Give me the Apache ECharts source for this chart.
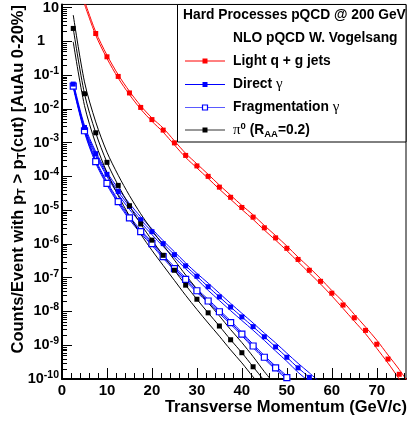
<!DOCTYPE html>
<html><head><meta charset="utf-8">
<script src="https://cdn.jsdelivr.net/npm/echarts@6/dist/echarts.min.js"></script>
<style>html,body{margin:0;padding:0;background:#fff}#c{width:408px;height:424px}</style>
</head><body><div id="c"></div>
<script>
// ---- data (counts/event vs pT) ----
const pTjets = [5,7.5,10,12.5,15,17.5,20,22.5,25,27.5,30,32.5,35,37.5,40,42.5,45,47.5,50,52.5,55,57.5,60,62.5,65,67.5,70,72.5,75,77.5];
const lightJets = [14,1.70,3.47e-1,9.1e-2,2.95e-2,1.10e-2,4.8e-3,2.34e-3,9.8e-4,4.17e-4,2.04e-4,1.0e-4,4.8e-5,2.4e-5,1.2e-5,6.2e-6,3.0e-6,1.51e-6,7.4e-7,3.47e-7,1.66e-7,7.8e-8,3.47e-8,1.55e-8,6.5e-9,2.75e-9,1.07e-9,3.9e-10,1.38e-10,4.5e-11];
const lightJetsBand = [1.12,1.12,1.12,1.12,1.12,1.12,1.12,1.15,1.15,1.15,1.15,1.15,1.15,1.15,1.15,1.17,1.17,1.17,1.17,1.17,1.2,1.2,1.2,1.26,1.26,1.26,1.32,1.32,1.38,1.38];

const pTdirect = [2.5,5,7.5,10,12.5,15,17.5,20,22.5,25,27.5,30,32.5,35,37.5,40,42.5,45,47.5,50,52.5,55,57.5];
const directGamma = [5.4e-2,2.8e-3,4.7e-4,1.15e-4,3.55e-5,1.29e-5,5.2e-6,2.3e-6,1.02e-6,4.8e-7,2.24e-7,1.10e-7,5.4e-8,2.7e-8,1.35e-8,6.9e-9,3.55e-9,1.78e-9,8.9e-10,4.4e-10,2.14e-10,1.12e-10,5.6e-11];
const directBand = [1.15,1.15,1.15,1.15,1.22,1.22,1.22,1.22,1.22,1.22,1.22,1.22,1.28,1.28,1.28,1.28,1.28,1.28,1.32,1.32,1.36,1.36,1.36];

const pTfrag = [2.5,5,7.5,10,12.5,15,17.5,20,22.5,25,27.5,30,32.5,35,37.5,40,42.5,45,47.5,50,52.5];
const fragGamma = [4.7e-2,2.24e-3,2.75e-4,6.2e-5,1.78e-5,5.9e-6,2.3e-6,1.02e-6,4.2e-7,1.86e-7,8.9e-8,4.1e-8,2.04e-8,9.8e-9,4.7e-9,2.14e-9,9.5e-10,4.4e-10,2.14e-10,1.10e-10,5.0e-11];
const fragBand = [1.12,1.12,1.12,1.12,1.12,1.12,1.12,1.12,1.12,1.12,1.12,1.12,1.12,1.12,1.12,1.12,1.12,1.12,1.12,1.12,1.12];

const pTpi0 = [2.5,5,7.5,10,12.5,15,17.5,20,22.5,25,27.5,30,32.5,35,37.5,40,42.5,45,47.5];
const pi0 = [2.4,2.8e-2,1.95e-3,2.6e-4,5.4e-5,1.35e-5,3.9e-6,1.29e-6,4.6e-7,1.66e-7,6.0e-8,2.3e-8,9.1e-9,3.7e-9,1.45e-9,6.0e-10,2.3e-10,8.9e-11,3.5e-11];
const pi0Band = [2.5,2.24,2.1,2.0,2.0,2.0,2.0,2.0,2.0,2.0,2.0,2.0,2.0,2.0,2.0,2.0,2.0,1.86,1.86];

const xMajorTicks = [0,10,20,30,40,50,60,70];
const xMinorTicks = [2,4,6,8,12,14,16,18,22,24,26,28,32,34,36,38,42,44,46,48,52,54,56,58,62,64,66,68,72,74,76];
const yDecades = [-10,-9,-8,-7,-6,-5,-4,-3,-2,-1,0,1];
const X_MAX = 76.5;
const Y_TOP = 12.3;

// ---- build ----
const FONT = '"Liberation Sans", Arial, Helvetica, sans-serif';
const Y_MIN = -10, Y_MAX = Math.log10(Y_TOP);
const yMinor = [];
yDecades.forEach(n => { for (let k = 2; k <= 9; k++) { const v = n + Math.log10(k); if (v < Y_MAX) yMinor.push(v); } });

function curve(xs, ys, band, dir) {
  return xs.map((x, i) => [x, Math.log10(ys[i] * (band ? Math.pow(band[i], dir) : 1))]);
}
function line(data, color, opts) {
  return Object.assign({
    type: 'line', data: data, smooth: 0.3, clip: true, silent: true,
    showSymbol: false, symbol: 'none',
    lineStyle: { color: color, width: 1 }, itemStyle: { color: color }
  }, opts || {});
}
function marks(data, color, lineOn, sym) {
  return line(data, color, {
    symbol: 'rect', showSymbol: true, symbolSize: sym && sym.size || 5,
    lineStyle: { color: color, width: 1, opacity: lineOn ? 1 : 0 },
    itemStyle: sym && sym.open ? { color: '#fff', borderColor: color, borderWidth: 1.2 } : { color: color }
  });
}
// minor axis ticks placed through the axis scales
function minorTicks(values, dim, len) {
  return {
    type: 'custom', silent: true, clip: false, z: 5,
    data: values.map(v => [v]),
    encode: dim === 'x' ? { x: 0 } : { y: 0 },
    renderItem: function (params, api) {
      const v = api.value(0);
      if (dim === 'x') {
        const p = api.coord([v, Y_MIN]);
        return { type: 'line', shape: { x1: Math.round(p[0]) + 0.5, y1: p[1], x2: Math.round(p[0]) + 0.5, y2: p[1] - len }, style: { stroke: '#000', lineWidth: 1 } };
      }
      const p = api.coord([0, v]);
      return { type: 'line', shape: { x1: p[0], y1: Math.round(p[1]) + 0.5, x2: p[0] + len, y2: Math.round(p[1]) + 0.5 }, style: { stroke: '#000', lineWidth: 1 } };
    }
  };
}

const RED = '#ff0000', BLUE = '#0000ff', BLACK = '#000000';
const series = [
  line(curve(pTjets, lightJets, lightJetsBand, -1), RED),
  line(curve(pTjets, lightJets, lightJetsBand, 1), RED),
  marks(curve(pTjets, lightJets), RED, false),
  line(curve(pTfrag, fragGamma, fragBand, -1), BLUE),
  line(curve(pTfrag, fragGamma, fragBand, 1), BLUE),
  marks(curve(pTfrag, fragGamma), BLUE, true, { open: true, size: 6 }),
  line(curve(pTdirect, directGamma, directBand, -1), BLUE),
  line(curve(pTdirect, directGamma, directBand, 1), BLUE),
  marks(curve(pTdirect, directGamma), BLUE, true),
  line(curve(pTpi0, pi0, pi0Band, -1), BLACK),
  line(curve(pTpi0, pi0, pi0Band, 1), BLACK),
  marks(curve(pTpi0, pi0), BLACK, true),
  minorTicks(xMinorTicks, 'x', 6),
  minorTicks(yMinor, 'y', 5)
];

const tickStyle = { color: '#000', width: 1 };
const labelRich = {
  b: { fontFamily: FONT, fontWeight: 'bold', fontSize: 14.5, color: '#000' },
  s: { fontFamily: FONT, fontWeight: 'bold', fontSize: 10.5, color: '#000', padding: [0, 0, 8, 0] },
  one: { fontFamily: FONT, fontWeight: 'bold', fontSize: 14.5, color: '#000', padding: [0, 14, 0, 0] }
};

const legendY = [61, 84.5, 107.5, 130];
const txt = { fontFamily: FONT, fontWeight: 'bold', fontSize: 13.8, fill: '#000' };
const greek = { fontFamily: '"Liberation Serif", "DejaVu Serif", serif', fontWeight: 'normal', fontSize: 15, fill: '#000' };
const legRich = {
  b: txt, g: greek,
  sup: { fontFamily: FONT, fontWeight: 'bold', fontSize: 9.5, fill: '#000', padding: [0, 0, 8, 0] },
  sub: { fontFamily: FONT, fontWeight: 'bold', fontSize: 9.5, fill: '#000', padding: [9, 0, 0, 0] }
};
function legendEntry(i, lineColor, markerStyle, label) {
  const y = legendY[i];
  return [
    { type: 'line', z: 101, shape: { x1: 185, y1: y, x2: 225, y2: y }, style: { stroke: lineColor, lineWidth: 1 } },
    { type: 'rect', z: 102, shape: { x: 202.5, y: y - 2.5, width: 5, height: 5 }, style: markerStyle },
    { type: 'text', z: 102, x: 233, y: y, style: { text: label, rich: legRich, verticalAlign: 'middle', align: 'left' } }
  ];
}

const graphic = [
  { type: 'rect', z: 100, shape: { x: 177.5, y: 4.5, width: 228.5, height: 137.5 }, style: { fill: '#fff', stroke: '#000', lineWidth: 1 } },
  { type: 'text', z: 102, x: 183, y: 15, style: Object.assign({ text: 'Hard Processes pQCD @ 200 GeV', verticalAlign: 'middle', align: 'left' }, txt) },
  { type: 'text', z: 102, x: 233, y: 38, style: Object.assign({ text: 'NLO pQCD W. Vogelsang', verticalAlign: 'middle', align: 'left' }, txt) }
].concat(
  legendEntry(0, RED, { fill: RED }, '{b|Light q + g jets}'),
  legendEntry(1, BLUE, { fill: BLUE }, '{b|Direct }{g|γ}'),
  legendEntry(2, '#5a5aff', { fill: '#fff', stroke: BLUE, lineWidth: 1.2 }, '{b|Fragmentation }{g|γ}'),
  legendEntry(3, '#333333', { fill: BLACK }, '{g|π}{sup|0}{b| (R}{sub|AA}{b|=0.2)}'),
  [
    { type: 'text', z: 102, x: 18, y: 5, rotation: Math.PI / 2,
      style: { text: '{t|Counts/Event with p}{u|T}{t| > p}{u|T}{t|(cut) [AuAu 0-20%]}', align: 'right', verticalAlign: 'middle',
        rich: { t: { fontFamily: FONT, fontWeight: 'bold', fontSize: 16.5, fill: '#000' },
                u: { fontFamily: FONT, fontWeight: 'bold', fontSize: 11, fill: '#000', padding: [8, 0, 0, 0] } } } },
    { type: 'text', z: 102, x: 407, y: 407,
      style: { text: 'Transverse Momentum (GeV/c)', align: 'right', verticalAlign: 'middle', fontFamily: FONT, fontWeight: 'bold', fontSize: 16.5, fill: '#000' } }
  ]
);

const option = {
  animation: false,
  backgroundColor: '#fff',
  grid: { left: 62, right: 2, top: 4, bottom: 45, show: true, borderColor: '#000', borderWidth: 1, backgroundColor: 'transparent' },
  xAxis: { type: 'value', min: 0, max: X_MAX, position: 'bottom',
      axisLine: { show: true, onZero: false, lineStyle: { color: '#000', width: 2 } },
      axisTick: { show: true, inside: true, length: 11, customValues: xMajorTicks, lineStyle: tickStyle },
      axisLabel: { show: true, customValues: xMajorTicks, margin: 4, color: '#000', fontFamily: FONT, fontWeight: 'bold', fontSize: 15 },
      splitLine: { show: false } },
  yAxis: { type: 'value', min: Y_MIN, max: Y_MAX, position: 'left',
      axisLine: { show: true, onZero: false, lineStyle: { color: '#000', width: 2 } },
      axisTick: { show: true, inside: true, length: 10, customValues: yDecades, lineStyle: tickStyle },
      axisLabel: { show: true, customValues: yDecades, margin: 3,
        formatter: function (v) {
          const n = Math.round(v);
          if (n === 0) return '{one|1}';
          if (n === 1) return '{b|10}';
          return '{b|10}{s|' + n + '}';
        }, rich: labelRich },
      splitLine: { show: false } },
  series: series,
  graphic: graphic
};
const chart = echarts.init(document.getElementById('c'), null, { renderer: 'canvas' });
chart.setOption(option);
</script>
</body></html>
